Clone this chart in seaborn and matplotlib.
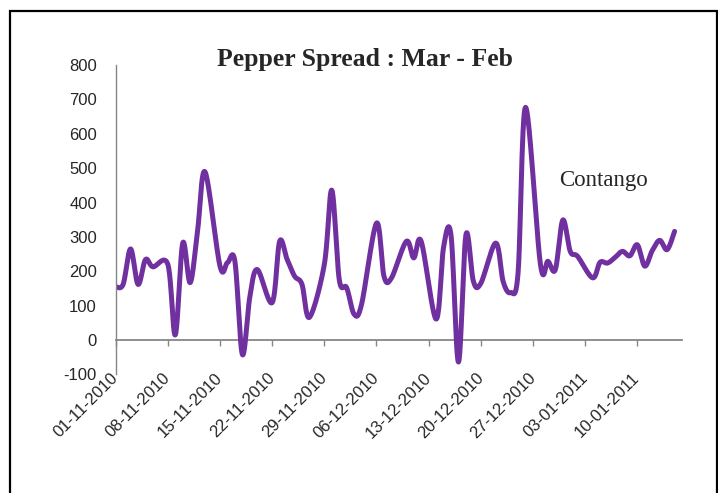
import numpy as np
import pandas as pd
import seaborn as sns
import matplotlib.pyplot as plt
import matplotlib.dates as mdates
from matplotlib.patches import Rectangle

# spread values (trading days, some days missing)
dates = ['01-11-2010', '02-11-2010', '03-11-2010', '04-11-2010', '05-11-2010', '06-11-2010',
         '08-11-2010', '09-11-2010', '10-11-2010', '11-11-2010', '12-11-2010', '13-11-2010',
         '15-11-2010', '16-11-2010', '17-11-2010', '18-11-2010', '19-11-2010', '20-11-2010',
         '22-11-2010', '23-11-2010', '24-11-2010', '25-11-2010', '26-11-2010', '27-11-2010',
         '29-11-2010', '30-11-2010', '01-12-2010', '02-12-2010', '03-12-2010', '04-12-2010',
         '06-12-2010', '07-12-2010', '08-12-2010', '10-12-2010', '11-12-2010', '12-12-2010',
         '14-12-2010', '15-12-2010', '16-12-2010', '17-12-2010', '18-12-2010', '19-12-2010',
         '20-12-2010', '22-12-2010', '23-12-2010', '24-12-2010', '25-12-2010', '26-12-2010',
         '28-12-2010', '29-12-2010', '30-12-2010', '31-12-2010', '01-01-2011', '02-01-2011',
         '04-01-2011', '05-01-2011', '06-01-2011', '07-01-2011', '08-01-2011', '09-01-2011',
         '10-01-2011', '11-01-2011', '12-01-2011', '13-01-2011', '14-01-2011', '15-01-2011']
spread = [155, 162, 265, 162, 234, 213,
          220, 15, 282, 167, 320, 489,
          215, 225, 229, -42, 125, 205,
          109, 287, 235, 186, 162, 66,
          220, 436, 176, 152, 75, 104,
          340, 186, 180, 287, 239, 287,
          61, 270, 305, -64, 306, 171,
          165, 282, 170, 138, 196, 677,
          220, 229, 205, 349, 258, 243,
          181, 226, 224, 240, 258, 245,
          277, 215, 260, 290, 263, 316]

tick_dates = ['01-11-2010', '08-11-2010', '15-11-2010', '22-11-2010', '29-11-2010', '06-12-2010',
              '13-12-2010', '20-12-2010', '27-12-2010', '03-01-2011', '10-01-2011']
y_ticks = [-100, 0, 100, 200, 300, 400, 500, 600, 700, 800]


def smooth_line(x, y, n=24):
    # excel-like smoothed line: cubic bezier through every point
    pts = np.column_stack([x, y]).astype(float)
    out = []
    for i in range(len(pts) - 1):
        p0 = pts[i - 1] if i > 0 else pts[i]
        p1, p2 = pts[i], pts[i + 1]
        p3 = pts[i + 2] if i + 2 < len(pts) else pts[i + 1]
        c1 = p1 + (p2 - p0) / 6
        c2 = p2 - (p3 - p1) / 6
        t = np.linspace(0, 1, n)[:, None]
        seg = ((1 - t) ** 3) * p1 + 3 * ((1 - t) ** 2) * t * c1 + 3 * (1 - t) * t ** 2 * c2 + t ** 3 * p2
        out.append(seg if i == 0 else seg[1:])
    out = np.vstack(out)
    return out[:, 0], out[:, 1]


sns.set_style('white')
plt.rcParams['font.family'] = ['Liberation Sans', 'DejaVu Sans']

x = mdates.date2num(pd.to_datetime(dates, dayfirst=True))
sx, sy = smooth_line(x, spread)
df = pd.DataFrame({'date': sx, 'spread': sy})

fig = plt.figure(figsize=(7.18, 4.93), dpi=100)
ax = fig.add_axes([0.1611, 0.2406, 0.7888, 0.6274])

sns.lineplot(data=df, x='date', y='spread', ax=ax, sort=False, estimator=None,
             color='#7030A0', linewidth=3.6, solid_capstyle='round')

gray = '#868686'
ax.set_ylim(-100, 800)
ax.set_yticks(y_ticks)
ax.set_yticklabels([str(v) for v in y_ticks], fontsize=12)
t0 = mdates.date2num(pd.to_datetime('01-11-2010', dayfirst=True))
ax.set_xlim(t0, t0 + 76)

xt = mdates.date2num(pd.to_datetime(tick_dates, dayfirst=True))
ax.set_xticks(xt)
ax.set_xticklabels(tick_dates, fontsize=12, rotation=45, ha='right',
                   va='center', rotation_mode='anchor')
ax.tick_params(axis='x', length=0, pad=0.5)
ax.tick_params(axis='y', length=4.5, width=1, color=gray, direction='out', pad=9)
ax.set_xlabel('')
ax.set_ylabel('')

for s in ['top', 'right', 'bottom']:
    ax.spines[s].set_visible(False)
ax.spines['left'].set_color(gray)
ax.spines['left'].set_linewidth(1)

# category axis line crossing at zero
sec = ax.secondary_xaxis(100 / 900)
sec.set_xticks(xt)
sec.tick_params(axis='x', length=4.5, width=1, color=gray, direction='out', labelbottom=False)
sec.spines['bottom'].set_color(gray)
sec.spines['bottom'].set_linewidth(1.3)

fig.text(0.508, 0.879, 'Pepper Spread : Mar - Feb', ha='center', va='center',
         fontsize=18.5, fontweight='bold', family=['Liberation Serif', 'DejaVu Serif'])
ax.text(t0 + 59.5, 447, 'Contango', fontsize=16.5, family=['Liberation Serif', 'DejaVu Serif'],
        ha='left', va='baseline')

fig.patches.append(Rectangle((10 / 718, -0.1), 707 / 718, 1.1 - 11 / 493, transform=fig.transFigure,
                             fill=False, edgecolor='black', linewidth=1.6, clip_on=False))

fig.savefig('out.png', dpi=100)
